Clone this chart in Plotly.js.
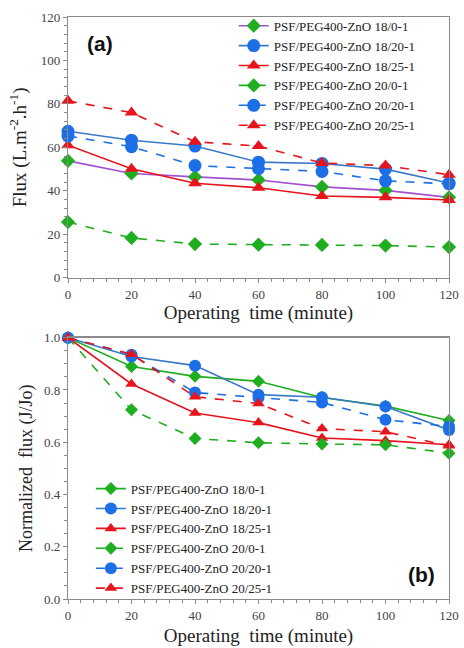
<!DOCTYPE html>
<html>
<head>
<meta charset="utf-8">
<script src="https://cdn.plot.ly/plotly-3.0.1.min.js"></script>
<style>html,body{margin:0;padding:0;background:#fff;}#chart{width:464px;height:648px;}</style>
</head>
<body>
<div id="chart"></div>
<script>
// ---- data ----
const timeMin = [0, 20, 40, 60, 80, 100, 120];
const seriesNames = [
  "PSF/PEG400-ZnO 18/0-1",
  "PSF/PEG400-ZnO 18/20-1",
  "PSF/PEG400-ZnO 18/25-1",
  "PSF/PEG400-ZnO 20/0-1",
  "PSF/PEG400-ZnO 20/20-1",
  "PSF/PEG400-ZnO 20/25-1"
];
// panel (a) flux, L.m-2.h-1
const flux_18_0  = [53.8, 48.0, 46.4, 45.0, 41.8, 40.2, 37.0];
const flux_18_20 = [67.4, 63.3, 60.6, 53.2, 52.6, 50.0, 43.6];
const flux_18_25 = [61.0, 50.2, 43.5, 41.4, 37.6, 37.0, 35.8];
const flux_20_0  = [25.6, 18.3, 15.5, 15.2, 15.1, 14.8, 14.1];
const flux_20_20 = [65.2, 60.3, 51.6, 50.2, 48.9, 44.6, 43.2];
const flux_20_25 = [81.4, 76.0, 62.6, 60.6, 52.8, 51.6, 47.4];
// panel (b) normalized flux J/Jo
const norm_18_0  = [1.0, 0.890, 0.852, 0.833, 0.771, 0.738, 0.683];
const norm_18_20 = [1.0, 0.928, 0.893, 0.782, 0.772, 0.737, 0.647];
const norm_18_25 = [1.0, 0.823, 0.712, 0.675, 0.616, 0.606, 0.590];
const norm_20_0  = [1.0, 0.724, 0.614, 0.598, 0.593, 0.590, 0.558];
const norm_20_20 = [1.0, 0.935, 0.790, 0.770, 0.752, 0.686, 0.660];
const norm_20_25 = [1.0, 0.937, 0.774, 0.748, 0.652, 0.640, 0.586];
const xTickVals = [0, 20, 40, 60, 80, 100, 120];

// ---- styles ----
const GREEN = "#1fae1f", BLUE = "#1c6fe6", BLUEL = "#3a78c8", RED = "#e8141c", PURPLE = "#a24fd2";
const styleA = [
  {line: PURPLE, mk: GREEN, sym: "diamond", size: 11, dash: "solid"},
  {line: BLUEL, mk: BLUE, sym: "circle", size: 13, dash: "solid"},
  {line: RED, mk: RED, sym: "triangle-up", size: 12, dash: "solid"},
  {line: GREEN, mk: GREEN, sym: "diamond", size: 11, dash: "dash"},
  {line: BLUE, mk: BLUE, sym: "circle", size: 13, dash: "dash"},
  {line: RED, mk: RED, sym: "triangle-up", size: 12, dash: "dash"}
];
const styleB = styleA.map((s, i) => Object.assign({}, s, {line: i === 0 ? GREEN : s.line, size: s.size - 1}));

const fluxData = [flux_18_0, flux_18_20, flux_18_25, flux_20_0, flux_20_20, flux_20_25];
const normData = [norm_18_0, norm_18_20, norm_18_25, norm_20_0, norm_20_20, norm_20_25];

const traces = [];
fluxData.forEach((ys, i) => {
  const s = styleA[i];
  traces.push({
    x: timeMin, y: ys, name: seriesNames[i], type: "scatter", mode: "lines+markers",
    xaxis: "x", yaxis: "y", legend: "legend", cliponaxis: false,
    line: {color: s.line, width: 1.6, dash: s.dash},
    marker: {color: s.mk, symbol: s.sym, size: s.size, line: {width: 0}}
  });
});
normData.forEach((ys, i) => {
  const s = styleB[i];
  traces.push({
    x: timeMin, y: ys, name: seriesNames[i], type: "scatter", mode: "lines+markers",
    xaxis: "x2", yaxis: "y2", legend: "legend2", cliponaxis: false,
    line: {color: s.line, width: 1.6, dash: s.dash},
    marker: {color: s.mk, symbol: s.sym, size: s.size, line: {width: 0}}
  });
});

const serif = "Liberation Serif";
const axisCommon = {
  showgrid: false, zeroline: false, showline: true, linecolor: "#8a8a8a", linewidth: 1.2,
  mirror: true, ticks: "outside", ticklen: 4, tickcolor: "#8a8a8a", tickwidth: 1,
  tickfont: {family: serif, size: 13, color: "#444"},
  minor: {ticks: "outside", ticklen: 3, tickcolor: "#8a8a8a"}
};

const layout = {
  width: 464, height: 648,
  margin: {l: 68, r: 15, t: 16, b: 49},
  paper_bgcolor: "#fff", plot_bgcolor: "#fff",
  showlegend: true,
  font: {family: serif, color: "#333"},
  xaxis: Object.assign({}, axisCommon, {
    domain: [0, 1], anchor: "y", range: [0, 120], tickvals: xTickVals,
    minor: Object.assign({}, axisCommon.minor, {dtick: 4, tick0: 0}),
    title: {text: "Operating  time (minute)", font: {family: serif, size: 19, color: "#222"}, standoff: 5}
  }),
  yaxis: Object.assign({}, axisCommon, {
    domain: [0.552, 1], anchor: "x", range: [0, 120], dtick: 20,
    minor: Object.assign({}, axisCommon.minor, {dtick: 4, tick0: 0}),
    title: {text: "Flux (L.m<sup>-2</sup>.h<sup>-1</sup>)", font: {family: serif, size: 19, color: "#222"}, standoff: 9}
  }),
  xaxis2: Object.assign({}, axisCommon, {
    domain: [0, 1], anchor: "y2", range: [0, 120], tickvals: xTickVals,
    minor: Object.assign({}, axisCommon.minor, {dtick: 4, tick0: 0}),
    title: {text: "Operating  time (minute)", font: {family: serif, size: 19, color: "#222"}, standoff: 7}
  }),
  yaxis2: Object.assign({}, axisCommon, {
    domain: [0, 0.449], anchor: "x2", range: [0, 1.0], dtick: 0.2, tickformat: ".1f",
    minor: Object.assign({}, axisCommon.minor, {dtick: 0.05, tick0: 0}),
    title: {text: "Normalized  flux (J/Jo)", font: {family: serif, size: 18, color: "#222"}, standoff: 6}
  }),
  legend: {
    x: 0.435, y: 1.009, xanchor: "left", yanchor: "top", bgcolor: "rgba(0,0,0,0)",
    font: {family: serif, size: 13, color: "#222"}, itemwidth: 30, tracegroupgap: 0
  },
  legend2: {
    x: 0.06, y: 0.215, xanchor: "left", yanchor: "top", bgcolor: "rgba(0,0,0,0)",
    font: {family: serif, size: 13, color: "#222"}, itemwidth: 30, tracegroupgap: 0
  },
  annotations: [
    {xref: "paper", yref: "paper", x: 0.085, y: 0.955, xanchor: "center", yanchor: "middle",
     text: "<b>(a)</b>", showarrow: false, font: {family: "Liberation Sans", size: 21, color: "#111"}},
    {xref: "paper", yref: "paper", x: 0.928, y: 0.042, xanchor: "center", yanchor: "middle",
     text: "<b>(b)</b>", showarrow: false, font: {family: "Liberation Sans", size: 21, color: "#111"}}
  ]
};

Plotly.newPlot("chart", traces, layout, {staticPlot: true, displayModeBar: false});
</script>
</body>
</html>
